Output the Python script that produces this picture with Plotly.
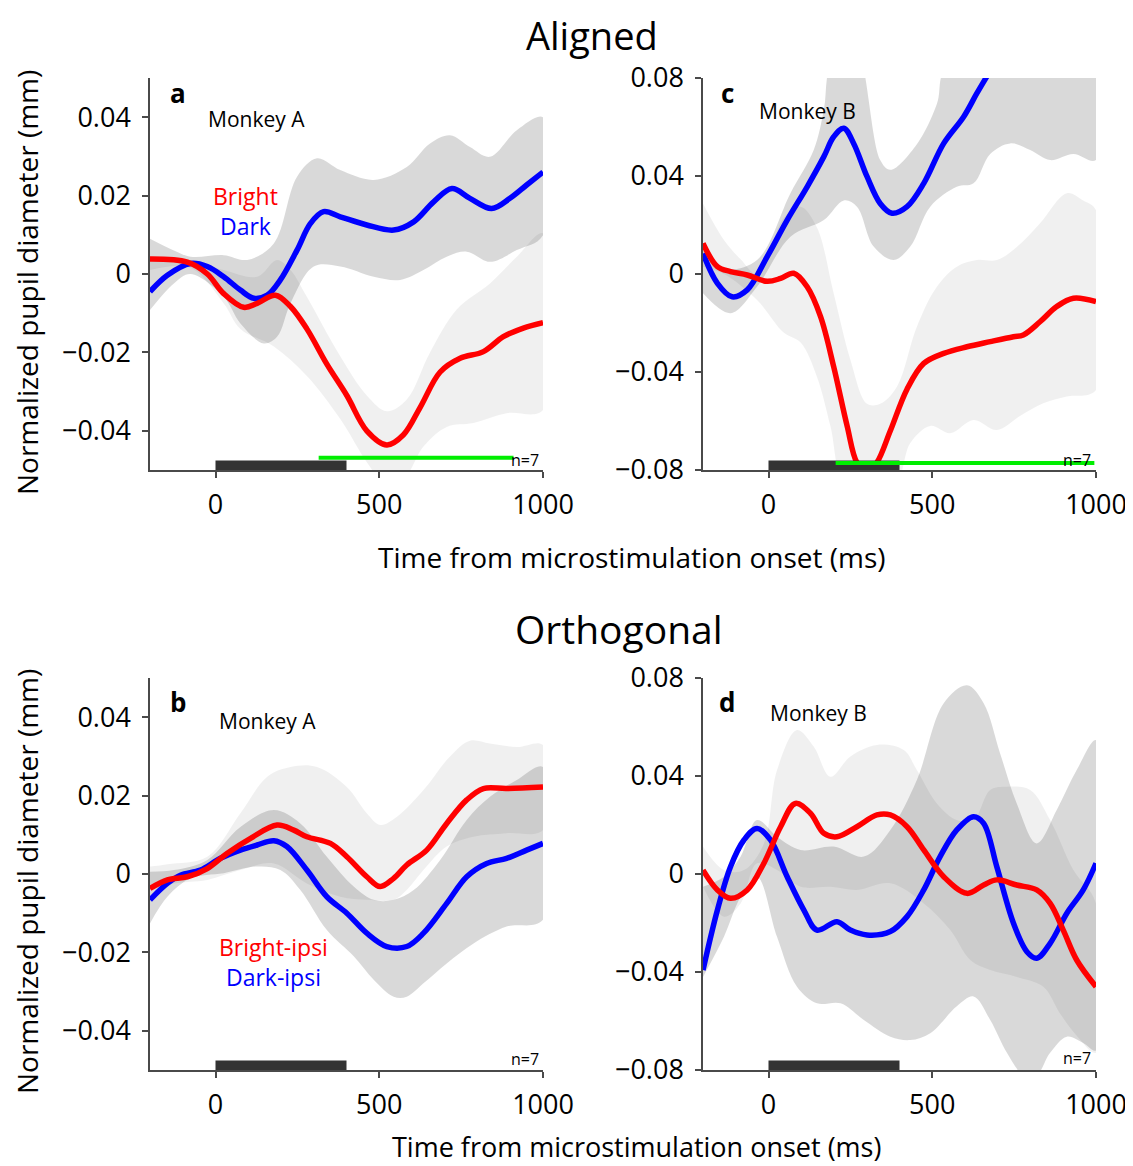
import plotly.graph_objects as go

# ---------------- data ----------------
# Panel a (Aligned, Monkey A)
a_red_t = [-200,-86,-25,25,86,127,183,229,279,340,401,462,523,574,625,686,747,818,879,940,1000]
a_red_y = [0.0038,0.003,0.0,-0.005,-0.0085,-0.0075,-0.0054,-0.0083,-0.014,-0.023,-0.031,-0.040,-0.0436,-0.041,-0.034,-0.025,-0.0215,-0.0198,-0.016,-0.0138,-0.0124]
a_blue_t = [-200,-147,-76,-25,25,76,117,158,198,249,290,330,381,462,544,605,666,722,777,843,899,950,1000]
a_blue_y = [-0.0045,-0.0003,0.0027,0.0019,-0.0007,-0.0041,-0.0062,-0.0054,-0.0015,0.0061,0.0129,0.0159,0.0146,0.0125,0.0112,0.0133,0.0184,0.0218,0.0193,0.0167,0.0193,0.0227,0.026]
a_dark_up_t = [-200,-127,-76,25,97,178,249,310,381,483,584,655,716,777,838,920,1000]
a_dark_up_y = [0.009,0.006,0.0044,0.0048,0.0036,0.0078,0.0248,0.0295,0.0265,0.024,0.0273,0.0333,0.0354,0.0324,0.0299,0.0367,0.040]
a_dark_lo_t = [-200,-127,-76,25,76,147,188,229,300,381,483,564,635,706,767,838,920,1000]
a_dark_lo_y = [-0.0092,-0.0024,0.0,-0.0058,-0.0126,-0.0177,-0.016,-0.0075,0.0019,0.0019,-0.0007,-0.0015,0.001,0.0044,0.0057,0.0031,0.0061,0.0099]
a_light_up_t = [-200,-76,25,127,188,229,279,381,462,523,584,655,737,838,920,1000]
a_light_up_y = [0.004,0.0036,0.001,-0.0007,0.0036,0.001,-0.0058,-0.021,-0.031,-0.035,-0.032,-0.020,-0.009,-0.0024,0.0044,0.0104]
a_light_lo_t = [-200,-76,25,76,178,279,381,462,503,574,635,706,788,889,1000]
a_light_lo_y = [0.001,0.0015,-0.0075,-0.014,-0.0185,-0.026,-0.037,-0.048,-0.052,-0.052,-0.044,-0.039,-0.038,-0.0355,-0.0347]

# Panel c (Aligned, Monkey B)
c_red_t = [-200,-156,-116,-65,-4,37,77,118,159,199,240,270,301,331,372,423,474,535,606,677,748,778,829,880,931,1000]
c_red_y = [0.0125,0.003,0.001,-0.0004,-0.003,-0.0018,0.0003,-0.0052,-0.0174,-0.0378,-0.062,-0.077,-0.081,-0.077,-0.064,-0.047,-0.0365,-0.0324,-0.0297,-0.0276,-0.0256,-0.0249,-0.0195,-0.0133,-0.0099,-0.0113]
c_blue_t = [-200,-156,-111,-65,-4,57,118,169,199,230,260,301,341,377,423,474,535,596,636,677,728,778,1000]
c_blue_y = [0.0084,-0.0038,-0.0093,-0.0065,0.0071,0.022,0.0356,0.0479,0.056,0.0595,0.0533,0.0397,0.0288,0.0248,0.0275,0.037,0.0533,0.0642,0.0737,0.083,0.095,0.105,0.14]
c_dark_up_t = [-200,-136,-35,67,138,169,189,260,341,372,453,514,545,1000]
c_dark_up_y = [0.0098,0.002,0.0057,0.033,0.0506,0.067,0.085,0.095,0.0465,0.0425,0.053,0.0694,0.085,0.11]
c_dark_lo_t = [-200,-116,-35,67,169,230,270,321,382,433,494,575,626,677,738,799,860,931,1000]
c_dark_lo_y = [-0.0079,-0.016,-0.0052,0.0152,0.022,0.030,0.0275,0.0112,0.0057,0.0112,0.0275,0.0356,0.037,0.049,0.0533,0.0506,0.0465,0.049,0.0465]
c_light_up_t = [-200,-136,-85,-35,47,98,148,199,250,301,341,392,453,514,575,636,697,758,829,911,961,1000]
c_light_up_y = [0.0288,0.0139,0.006,0.0,0.023,0.0275,0.019,-0.0079,-0.035,-0.053,-0.053,-0.046,-0.0215,-0.0052,0.003,0.0057,0.0057,0.011,0.0207,0.033,0.030,0.026]
c_light_lo_t = [-200,-136,-35,47,98,148,189,230,320,392,433,494,555,626,697,768,839,911,1000]
c_light_lo_y = [0.003,0.0,-0.0106,-0.024,-0.028,-0.042,-0.062,-0.085,-0.09,-0.085,-0.069,-0.062,-0.065,-0.0596,-0.0637,-0.058,-0.0528,-0.05,-0.0473]

# Panel b (Orthogonal, Monkey A)
b_red_t = [-200,-147,-86,-25,36,107,188,239,279,351,401,462,503,544,584,645,706,767,818,889,1000]
b_red_y = [-0.0037,-0.0015,-0.0007,0.0014,0.0053,0.0091,0.0125,0.0112,0.0095,0.0078,0.0044,-0.0007,-0.0032,-0.0011,0.0023,0.0061,0.0129,0.0189,0.0218,0.0218,0.0222]
b_blue_t = [-200,-147,-107,-46,15,76,127,178,218,279,340,401,462,523,584,635,706,767,828,889,950,1000]
b_blue_y = [-0.0066,-0.0024,-0.0003,0.001,0.004,0.0061,0.0074,0.0085,0.007,0.001,-0.0058,-0.01,-0.0151,-0.0185,-0.0185,-0.0151,-0.0075,-0.0007,0.0027,0.004,0.0061,0.0078]
b_dark_up_t = [-200,-127,-25,76,178,259,340,422,483,544,605,686,767,838,920,1000]
b_dark_up_y = [0.0006,0.001,0.0036,0.012,0.0163,0.0129,0.0044,-0.0032,-0.0066,-0.0066,-0.0041,0.0036,0.0138,0.0197,0.024,0.0273]
b_dark_lo_t = [-200,-147,-76,25,127,198,259,340,422,483,544,584,635,706,788,889,1000]
b_dark_lo_y = [-0.0126,-0.0058,-0.0011,0.0002,0.0019,0.001,-0.0041,-0.0143,-0.021,-0.027,-0.0313,-0.0313,-0.0279,-0.0228,-0.0177,-0.0134,-0.0117]
b_light_up_t = [-200,-147,-25,76,158,229,310,401,462,503,554,635,716,777,838,920,1000]
b_light_up_y = [0.0019,0.0025,0.0044,0.0155,0.0248,0.0273,0.0273,0.0222,0.0155,0.0125,0.0146,0.0214,0.030,0.034,0.0333,0.0324,0.0329]
b_light_lo_t = [-200,-127,-25,76,178,279,381,462,544,584,635,706,788,889,1000]
b_light_lo_y = [-0.0041,-0.0024,-0.0015,0.001,0.0027,-0.0024,-0.0058,-0.0066,-0.0066,-0.0041,0.001,0.007,0.0095,0.0104,0.0112]

# Panel d (Orthogonal, Monkey B)
d_red_t = [-200,-156,-116,-65,-14,37,82,128,169,209,270,331,372,423,474,535,606,657,697,758,819,860,900,941,1000]
d_red_y = [0.0016,-0.0065,-0.0099,-0.0065,0.0044,0.0193,0.0288,0.0248,0.0166,0.0152,0.0193,0.0241,0.0241,0.0193,0.0098,-0.0011,-0.0079,-0.0045,-0.0024,-0.0045,-0.0065,-0.012,-0.0229,-0.0351,-0.046]
d_blue_t = [-200,-156,-116,-75,-35,6,57,108,148,209,250,301,372,423,474,524,575,626,657,697,748,789,819,860,911,961,1000]
d_blue_y = [-0.0392,-0.0147,0.003,0.0139,0.0186,0.0139,-0.0011,-0.0147,-0.0229,-0.0195,-0.0229,-0.0249,-0.0235,-0.0174,-0.0065,0.0071,0.018,0.0234,0.0207,0.003,-0.0201,-0.0317,-0.0344,-0.0283,-0.016,-0.0065,0.0044]
d_light_up_t = [-200,-136,-75,-14,26,87,138,189,250,331,413,453,514,575,626,677,728,799,860,931,1000]
d_light_up_y = [0.0112,0.0016,0.0016,0.0125,0.0424,0.0588,0.052,0.0397,0.048,0.0527,0.0506,0.0424,0.0288,0.022,0.022,0.0343,0.0356,0.0343,0.022,0.0016,-0.012]
d_light_lo_t = [-200,-136,-85,-35,26,98,189,270,372,474,555,616,677,758,839,890,941,1000]
d_light_lo_y = [-0.0052,-0.0174,-0.012,0.0044,0.0016,-0.0052,-0.0052,-0.0065,-0.0038,-0.012,-0.0229,-0.0351,-0.0392,-0.042,-0.046,-0.0569,-0.066,-0.073]
d_dark_up_t = [-200,-136,-85,-35,26,98,199,291,372,453,535,606,657,707,758,819,880,941,1000]
d_dark_up_y = [-0.0052,-0.0011,0.0071,0.022,0.0152,0.0098,0.0112,0.0071,0.018,0.0384,0.0697,0.077,0.0697,0.0493,0.0288,0.0125,0.0261,0.0424,0.0547]
d_dark_lo_t = [-200,-136,-85,-35,26,87,148,220,291,372,433,494,575,626,677,728,778,819,860,911,961,1000]
d_dark_lo_y = [-0.042,-0.0256,-0.0093,-0.0011,-0.0256,-0.046,-0.0528,-0.0528,-0.0596,-0.0664,-0.0678,-0.065,-0.054,-0.05,-0.0596,-0.073,-0.082,-0.082,-0.073,-0.0664,-0.069,-0.072]

stim_window = [0, 400]
sig_a = [315, 910]
sig_c = [205, 995]

x_ticks = [0, 500, 1000]
x_labels = ["0", "500", "1000"]
yA_ticks = [-0.04, -0.02, 0, 0.02, 0.04]
yA_labels = ["\u22120.04", "\u22120.02", "0", "0.02", "0.04"]
yB_ticks = [-0.08, -0.04, 0, 0.04, 0.08]
yB_labels = ["\u22120.08", "\u22120.04", "0", "0.04", "0.08"]

# ---------------- figure ----------------
PAGE_W, PAGE_H = 1133, 1166
OFF = 8                      # default body margin of the html page
W, H = PAGE_W - OFF, PAGE_H - OFF
FONT = "Open Sans"
RED = "#ff0000"
BLUE = "#0000ff"
LIGHT = "rgba(0,0,0,0.06)"
DARK = "rgba(0,0,0,0.15)"

def fx(p):
    return (p - OFF) / W

def fy(p):
    return 1 - (p - OFF) / H

fig = go.Figure()

def band(up_t, up_y, lo_t, lo_y, color, xa, ya):
    fig.add_trace(go.Scatter(
        x=list(up_t) + list(lo_t)[::-1], y=list(up_y) + list(lo_y)[::-1],
        fill="toself", fillcolor=color, mode="lines",
        line=dict(width=0, shape="spline", smoothing=1.0),
        hoverinfo="skip", showlegend=False, xaxis=xa, yaxis=ya))

def line(t, y, color, xa, ya):
    fig.add_trace(go.Scatter(
        x=t, y=y, mode="lines", line=dict(color=color, width=5.5, shape="spline", smoothing=1.0),
        hoverinfo="skip", showlegend=False, xaxis=xa, yaxis=ya))

panels = [
    ("x", "y", a_light_up_t, a_light_up_y, a_light_lo_t, a_light_lo_y,
     a_dark_up_t, a_dark_up_y, a_dark_lo_t, a_dark_lo_y, a_red_t, a_red_y, a_blue_t, a_blue_y),
    ("x2", "y2", c_light_up_t, c_light_up_y, c_light_lo_t, c_light_lo_y,
     c_dark_up_t, c_dark_up_y, c_dark_lo_t, c_dark_lo_y, c_red_t, c_red_y, c_blue_t, c_blue_y),
    ("x3", "y3", b_light_up_t, b_light_up_y, b_light_lo_t, b_light_lo_y,
     b_dark_up_t, b_dark_up_y, b_dark_lo_t, b_dark_lo_y, b_red_t, b_red_y, b_blue_t, b_blue_y),
    ("x4", "y4", d_light_up_t, d_light_up_y, d_light_lo_t, d_light_lo_y,
     d_dark_up_t, d_dark_up_y, d_dark_lo_t, d_dark_lo_y, d_red_t, d_red_y, d_blue_t, d_blue_y),
]
for (xa, ya, lut, luy, llt, lly, dut, duy, dlt, dly, rt, ry, bt, by) in panels:
    band(lut, luy, llt, lly, LIGHT, xa, ya)
    band(dut, duy, dlt, dly, DARK, xa, ya)
    line(bt, by, BLUE, xa, ya)
    line(rt, ry, RED, xa, ya)

axis_common = dict(showline=True, linecolor="#4a4a4a", linewidth=1.5, ticks="outside",
                   ticklen=6, tickwidth=1.5, tickcolor="#4a4a4a", showgrid=False,
                   zeroline=False, automargin=False,
                   tickfont=dict(size=27, color="black", family=FONT))

xdom_L = [fx(150), fx(543)]
xdom_R = [fx(703), fx(1096)]
ydom_T = [fy(470), fy(78)]
ydom_B = [fy(1070), fy(678)]

def xaxis(dom, anchor):
    return dict(axis_common, domain=dom, anchor=anchor, range=[-200, 1000],
                tickvals=x_ticks, ticktext=x_labels, ticklabelstandoff=4)

def yaxis(dom, anchor, rng, tv, tt):
    return dict(axis_common, domain=dom, anchor=anchor, range=rng,
                tickvals=tv, ticktext=tt, ticklabelstandoff=6)

fig.update_layout(
    template="none",
    width=W, height=H, margin=dict(l=0, r=0, t=0, b=0, autoexpand=False),
    paper_bgcolor="white", plot_bgcolor="white",
    font=dict(family=FONT, color="black"),
    xaxis=xaxis(xdom_L, "y"), yaxis=yaxis(ydom_T, "x", [-0.05, 0.05], yA_ticks, yA_labels),
    xaxis2=xaxis(xdom_R, "y2"), yaxis2=yaxis(ydom_T, "x2", [-0.08, 0.08], yB_ticks, yB_labels),
    xaxis3=xaxis(xdom_L, "y3"), yaxis3=yaxis(ydom_B, "x3", [-0.05, 0.05], yA_ticks, yA_labels),
    xaxis4=xaxis(xdom_R, "y4"), yaxis4=yaxis(ydom_B, "x4", [-0.08, 0.08], yB_ticks, yB_labels),
)

shapes = []
for xr, yr in [("x", "y"), ("x2", "y2"), ("x3", "y3"), ("x4", "y4")]:
    shapes.append(dict(type="rect", xref=xr, yref=yr + " domain",
                       x0=stim_window[0], x1=stim_window[1], y0=0.0, y1=0.024,
                       fillcolor="#333333", line=dict(width=0)))
shapes.append(dict(type="line", xref="x", yref="y domain", x0=sig_a[0], x1=sig_a[1],
                   y0=0.031, y1=0.031, line=dict(color="#00ee00", width=4)))
shapes.append(dict(type="line", xref="x2", yref="y2 domain", x0=sig_c[0], x1=sig_c[1],
                   y0=0.018, y1=0.018, line=dict(color="#00ee00", width=4)))
fig.update_layout(shapes=shapes)

ann = []
def text(x, y, s, size, color="black", bold=False, angle=0, xanchor="center", pad=1):
    if bold:
        s = "<b>" + s + "</b>"
    ann.append(dict(x=x, y=y, xref="paper", yref="paper", text=s, showarrow=False,
                    font=dict(size=size, color=color, family=FONT), textangle=angle,
                    xanchor=xanchor, yanchor="middle", borderpad=pad))

text(fx(592), fy(35), "Aligned", 38, pad=0)
text(fx(619), fy(628), "Orthogonal", 39)
text(fx(632), fy(557), "Time from microstimulation onset (ms)", 28)
text(fx(636), fy(1146), "Time from microstimulation onset (ms)", 27)
text(fx(27), fy(283), "Normalized pupil diameter (mm)", 28, angle=-90)
text(fx(27), fy(882), "Normalized pupil diameter (mm)", 28, angle=-90)

text(fx(178), fy(93), "a", 26, bold=True)
text(fx(727), fy(93), "c", 26, bold=True)
text(fx(178), fy(702), "b", 26, bold=True)
text(fx(727), fy(702), "d", 26, bold=True)

text(fx(256), fy(119), "Monkey A", 21)
text(fx(807), fy(111), "Monkey B", 21)
text(fx(267), fy(721), "Monkey A", 21)
text(fx(818), fy(713), "Monkey B", 21)

def two_line(c1, s1, c2, s2):
    return ("<span style='color:%s'>%s</span><br><span style='color:%s'>%s</span>"
            % (c1, s1, c2, s2))

text(fx(245), fy(211), two_line(RED, "Bright", BLUE, "Dark"), 23)
text(fx(273), fy(962), two_line(RED, "Bright-ipsi", BLUE, "Dark-ipsi"), 23)

for xp, yp in [(541, 460), (1093, 460), (541, 1059), (1093, 1058)]:
    text(fx(xp), fy(yp), "n=7", 16, xanchor="right")

fig.update_layout(annotations=ann)
fig.write_html("out.html")
